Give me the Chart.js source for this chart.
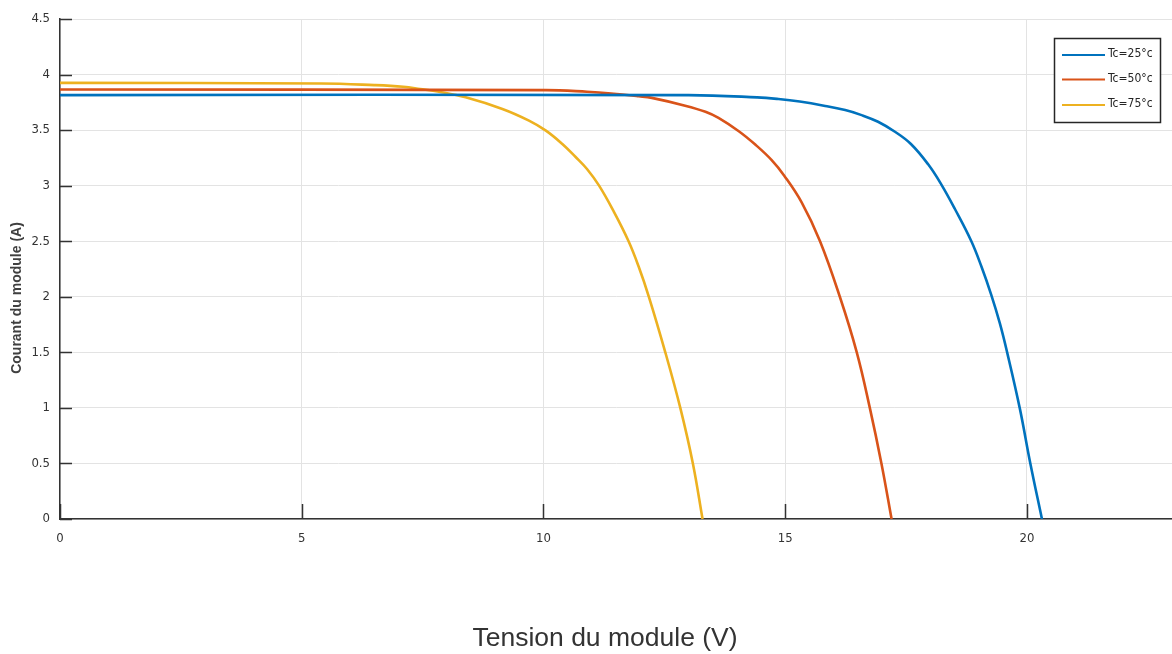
<!DOCTYPE html>
<html>
<head>
<meta charset="utf-8">
<script src="https://cdn.jsdelivr.net/npm/chart.js@4/dist/chart.umd.min.js"></script>
<style>
html,body{margin:0;padding:0;background:#fff;}
canvas{display:block;}
</style>
</head>
<body>
<canvas id="c" width="1172" height="654"></canvas>
<script>
// ---- Data ----
const seriesLabels = ["Tc=25°c", "Tc=50°c", "Tc=75°c"];

const voltage25 = [0, 13.0, 14.42, 14.86, 15.3, 15.8, 16.24, 16.58, 16.92, 17.27, 17.6, 17.96, 18.23, 18.51, 18.85, 19.06, 19.26, 19.44, 19.59, 19.85, 20.07, 20.31];
const current25 = [3.815, 3.815, 3.795, 3.78, 3.757, 3.72, 3.68, 3.635, 3.575, 3.485, 3.375, 3.19, 3.01, 2.79, 2.5, 2.27, 2.02, 1.76, 1.5, 1.0, 0.5, 0];

const voltage50 = [0, 10.05, 10.9, 11.4, 11.97, 12.24, 12.93, 13.35, 13.62, 14.04, 14.38, 14.72, 14.98, 15.34, 15.72, 16.13, 16.48, 16.75, 16.99, 17.20];
const current50 = [3.865, 3.86, 3.845, 3.83, 3.805, 3.79, 3.72, 3.665, 3.61, 3.49, 3.37, 3.23, 3.09, 2.85, 2.5, 2.0, 1.5, 1.0, 0.5, 0];

const voltage75 = [0, 5.4, 6.5, 7.1, 7.45, 7.84, 8.39, 9.15, 9.70, 10.05, 10.39, 10.66, 10.9, 11.15, 11.45, 11.76, 11.97, 12.18, 12.52, 12.83, 13.09, 13.29];
const current75 = [3.925, 3.92, 3.905, 3.89, 3.87, 3.845, 3.795, 3.69, 3.585, 3.495, 3.375, 3.26, 3.15, 3.0, 2.77, 2.5, 2.27, 2.0, 1.5, 1.0, 0.5, 0];

const xTickValues = [0, 5, 10, 15, 20];
const yTickValues = [0, 0.5, 1, 1.5, 2, 2.5, 3, 3.5, 4, 4.5];

const xTitle = "Tension du module (V)";
const yTitle = "Courant du module (A)";

const colors = ["#0072BD", "#D95319", "#EDB120"];

function pts(xs, ys){ return xs.map((x,i)=>({x:x, y:ys[i]})); }

const narrow = "'Liberation Sans Narrow','Arial Narrow','DejaVu Sans Condensed','Liberation Sans',sans-serif";

const decoPlugin = {
  id: 'deco',
  afterDraw(chart){
    const ctx = chart.ctx, ca = chart.chartArea;
    const xs = chart.scales.x, ys = chart.scales.y;
    ctx.save();
    // inward tick marks
    ctx.strokeStyle = '#333';
    ctx.lineWidth = 1.5;
    ctx.beginPath();
    xTickValues.forEach(v=>{
      const px = Math.round(xs.getPixelForValue(v)) + 0.5;
      ctx.moveTo(px, ca.bottom); ctx.lineTo(px, ca.bottom - 15);
    });
    yTickValues.forEach(v=>{
      const py = Math.round(ys.getPixelForValue(v)) + 0.5;
      ctx.moveTo(ca.left, py); ctx.lineTo(ca.left + 12, py);
    });
    ctx.stroke();

    // legend box
    const lx = 1054.5, ly = 38.5, lw = 106, lh = 84;
    ctx.fillStyle = '#fff';
    ctx.fillRect(lx, ly, lw, lh);
    ctx.strokeStyle = '#262626';
    ctx.lineWidth = 1.5;
    ctx.strokeRect(lx, ly, lw, lh);
    const rowY = [55, 79.5, 105];
    chart.data.datasets.forEach((ds, i)=>{
      ctx.strokeStyle = ds.borderColor;
      ctx.lineWidth = 2;
      ctx.beginPath();
      ctx.moveTo(1062, rowY[i]); ctx.lineTo(1105, rowY[i]);
      ctx.stroke();
      ctx.fillStyle = '#262626';
      ctx.font = "12px " + narrow;
      ctx.textAlign = 'left';
      ctx.textBaseline = 'middle';
      ctx.fillText(ds.label, 1108, rowY[i] - 1);
    });

    // axis titles
    ctx.fillStyle = '#404040';
    ctx.font = "bold 14px 'Liberation Sans',Arial,sans-serif";
    ctx.textAlign = 'center';
    ctx.textBaseline = 'middle';
    ctx.translate(17, 298);
    ctx.rotate(-Math.PI/2);
    ctx.fillText(yTitle, 0, 0);
    ctx.setTransform(1,0,0,1,0,0);
    ctx.fillStyle = '#333';
    ctx.font = "26.5px 'Liberation Sans',Arial,sans-serif";
    ctx.textAlign = 'center';
    ctx.textBaseline = 'alphabetic';
    ctx.fillText(xTitle, 605, 646);
    ctx.restore();
  }
};

new Chart(document.getElementById('c'), {
  type: 'scatter',
  data: {
    datasets: [
      {label: seriesLabels[0], data: pts(voltage25, current25), borderColor: colors[0], backgroundColor: colors[0]},
      {label: seriesLabels[1], data: pts(voltage50, current50), borderColor: colors[1], backgroundColor: colors[1]},
      {label: seriesLabels[2], data: pts(voltage75, current75), borderColor: colors[2], backgroundColor: colors[2]}
    ].map(d=>Object.assign(d, {showLine:true, pointRadius:0, borderWidth:2.6, tension:0.4, fill:false}))
  },
  options: {
    responsive: false,
    animation: false,
    devicePixelRatio: 1,
    layout: {padding: {top: 19, right: 0, left: 0, bottom: 0}},
    plugins: {legend: {display: false}, tooltip: {enabled: false}},
    scales: {
      x: {
        type: 'linear', min: 0, max: 23,
        afterFit: s => { s.height = 135; },
        afterBuildTicks: s => { s.ticks = xTickValues.map(v=>({value:v})); },
        ticks: {padding: 12, color: '#333', callback: v => String(v),
                font: {family: narrow, size: 13}, maxRotation: 0},
        grid: {color: '#e3e3e3', lineWidth: 1, drawTicks: false},
        border: {color: '#333', width: 1.5}
      },
      y: {
        type: 'linear', min: 0, max: 4.5,
        afterFit: s => { s.width = 60; },
        afterBuildTicks: s => { s.ticks = yTickValues.map(v=>({value:v})); },
        ticks: {padding: 10, color: '#333', callback: v => String(v),
                font: {family: narrow, size: 13}},
        grid: {color: '#e3e3e3', lineWidth: 1, drawTicks: false},
        border: {color: '#333', width: 1.5}
      }
    }
  },
  plugins: [decoPlugin]
});
</script>
</body>
</html>
